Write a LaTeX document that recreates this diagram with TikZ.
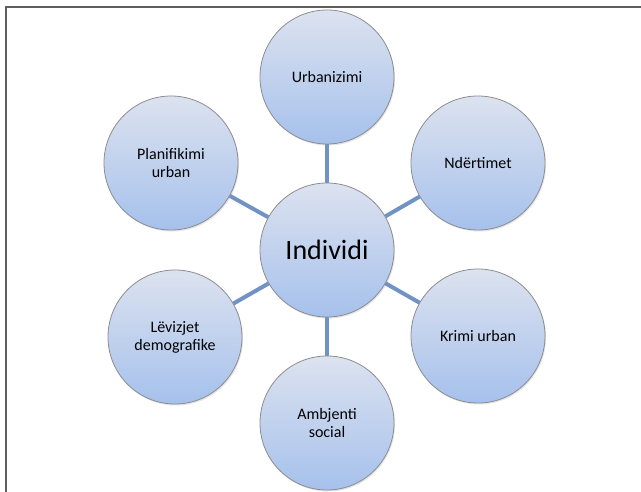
\documentclass[tikz,border=0pt]{standalone}
\usepackage{fontspec}
\setmainfont{Carlito}
\usetikzlibrary{shadows}
\definecolor{cirtop}{RGB}{220,226,239}
\definecolor{cirbot}{RGB}{166,193,236}
\definecolor{linkc}{RGB}{112,146,196}
\definecolor{rimc}{RGB}{140,140,145}
\definecolor{framec}{RGB}{95,95,95}
\tikzset{
  bub/.style={circle, minimum size=134pt, inner sep=0pt, draw=rimc, line width=0.8pt,
    top color=cirtop, bottom color=cirbot, align=center,
    font=\fontsize{16}{18}\selectfont, text=black,
    drop shadow={opacity=0.22, shadow xshift=1pt, shadow yshift=-1.5pt}},
  link/.style={draw=linkc, line width=4pt}
}
\begin{document}
\begin{tikzpicture}[x=1pt,y=-1pt]
\useasboundingbox (0,0) rectangle (641,492);
\fill[white] (0,0) rectangle (641,492);
\draw[framec, line width=1.5pt] (6,492) -- (6,7) -- (641,7);
\node[bub] (urb) at (327,77) {Urbanizimi};
\node[bub] (nde) at (478,163) {Ndërtimet};
\node[bub] (pla) at (171,163) {Planifikimi\\urban};
\node[bub] (lev) at (175,337) {Lëvizjet\\demografike};
\node[bub] (kri) at (478,336) {Krimi urban};
\node[bub] (amb) at (327,423) {Ambjenti\\social};
\node[bub, font=\fontsize{28}{30}\selectfont] (ind) at (327,250) {Individi};
\draw[link] (ind) -- (urb);
\draw[link] (ind) -- (nde);
\draw[link] (ind) -- (pla);
\draw[link] (ind) -- (lev);
\draw[link] (ind) -- (kri);
\draw[link] (ind) -- (amb);
\end{tikzpicture}
\end{document}
